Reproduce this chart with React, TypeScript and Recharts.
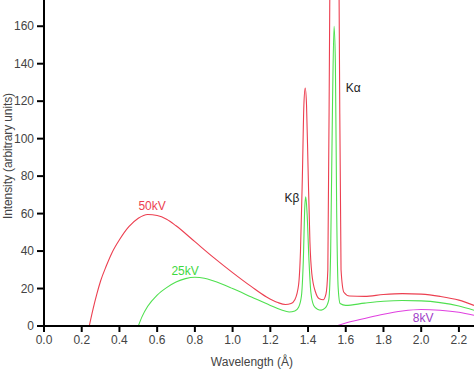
import React from "react";
import { LineChart, Line, XAxis, YAxis, ReferenceDot, Label } from "recharts";

// [wavelength (Å), intensity]
const kv50: [number, number][] = [
  [0.24, 0], [0.26, 9], [0.28, 17], [0.3, 24], [0.33, 32], [0.36, 39], [0.4, 46],
  [0.45, 53], [0.5, 57.5], [0.55, 59.5], [0.6, 59], [0.65, 57], [0.7, 53.5],
  [0.8, 45], [0.9, 36.5], [1.0, 28.5], [1.1, 21], [1.18, 15.5], [1.24, 12.5],
  [1.28, 11.5], [1.31, 12], [1.33, 14], [1.35, 22], [1.36, 40], [1.37, 80],
  [1.378, 118], [1.385, 127], [1.392, 118], [1.4, 85], [1.41, 45], [1.42, 28],
  [1.44, 18], [1.46, 14.5], [1.48, 14], [1.495, 17], [1.505, 30], [1.515, 170],
  [1.54, 500], [1.565, 170], [1.575, 30], [1.59, 18], [1.62, 16], [1.7, 15.8],
  [1.8, 16.8], [1.9, 17.3], [2.0, 17], [2.1, 15.8], [2.2, 13.8], [2.28, 11],
];

const kv25: [number, number][] = [
  [0.5, 0], [0.52, 5], [0.55, 10.5], [0.6, 16.5], [0.65, 20.5], [0.7, 23.5],
  [0.75, 25.3], [0.8, 26], [0.85, 25.5], [0.9, 24], [1.0, 20], [1.1, 15.5],
  [1.2, 11], [1.26, 8.5], [1.3, 7.5], [1.33, 8], [1.35, 10], [1.365, 16],
  [1.375, 35], [1.383, 64], [1.388, 69], [1.395, 60], [1.405, 35], [1.415, 18],
  [1.43, 11], [1.45, 9], [1.47, 8.5], [1.49, 9.5], [1.51, 14], [1.52, 40],
  [1.53, 120], [1.538, 160], [1.545, 140], [1.552, 60], [1.56, 20], [1.57, 12],
  [1.6, 11], [1.7, 12.2], [1.8, 13.2], [1.9, 13.6], [2.0, 13.4], [2.1, 12.5],
  [2.2, 10.7], [2.28, 8.4],
];

const kv8: [number, number][] = [
  [1.55, 0], [1.6, 1.6], [1.7, 4], [1.8, 6.3], [1.9, 8], [2.0, 8.8], [2.1, 8.4],
  [2.2, 7.3], [2.28, 5.7],
];

const xTicks = [0, 0.2, 0.4, 0.6, 0.8, 1.0, 1.2, 1.4, 1.6, 1.8, 2.0, 2.2];
const yTicks = [0, 20, 40, 60, 80, 100, 120, 140, 160];

// annotations: text, x, y, colour
const notes: [string, number, number, string][] = [
  ["50kV", 0.573, 64.4, "#ec3f50"],
  ["25kV", 0.748, 29.7, "#3fd83f"],
  ["Kβ", 1.315, 68.6, "#222"],
  ["Kα", 1.64, 127, "#222"],
  ["8kV", 2.01, 4.6, "#a040c8"],
];

const toPoints = (arr: [number, number][]) => arr.map(([w, i]) => ({ w, i }));

const tickStyle = { fontSize: 12, fill: "#444", fontFamily: "Liberation Sans, Arial, sans-serif" };

export default function App() {
  return (
    <div style={{ position: "absolute", left: 0, top: 0, fontFamily: "Liberation Sans, Arial, sans-serif" }}>
      <LineChart width={474} height={369} margin={{ top: 0, right: 0, left: 0, bottom: 0 }}>
        <XAxis
          dataKey="w"
          type="number"
          domain={[0, 2.28]}
          ticks={xTicks}
          tickFormatter={(v: number) => v.toFixed(1)}
          allowDataOverflow
          height={43}
          tickSize={6}
          tickMargin={3}
          tick={tickStyle}
          axisLine={{ stroke: "#000", strokeWidth: 2 }}
          tickLine={{ stroke: "#000", strokeWidth: 2 }}
        >
          <Label
            content={() => (
              <text x={252} y={366} textAnchor="middle" fontSize={12} fill="#444">
                Wavelength (Å)
              </text>
            )}
          />
        </XAxis>
        <YAxis
          type="number"
          domain={[0, 174]}
          ticks={yTicks}
          allowDataOverflow
          width={44}
          tickSize={7}
          tickMargin={3}
          tick={tickStyle}
          axisLine={{ stroke: "#000", strokeWidth: 2 }}
          tickLine={{ stroke: "#000", strokeWidth: 2 }}
        >
          <Label
            content={() => (
              <text x={11.5} y={156} transform="rotate(-90,11.5,156)" textAnchor="middle" fontSize={12} fill="#444" letterSpacing={-0.1}>
                Intensity (arbitrary units)
              </text>
            )}
          />
        </YAxis>
        <Line data={toPoints(kv50)} dataKey="i" type="monotone" stroke="#ec3f50" strokeWidth={1.1} dot={false} isAnimationActive={false} />
        <Line data={toPoints(kv25)} dataKey="i" type="monotone" stroke="#4fe04f" strokeWidth={1.1} dot={false} isAnimationActive={false} />
        <Line data={toPoints(kv8)} dataKey="i" type="monotone" stroke="#e040e0" strokeWidth={1.1} dot={false} isAnimationActive={false} />
        {notes.map(([t, x, y, c]) => (
          <ReferenceDot
            key={t}
            x={x}
            y={y}
            r={0}
            stroke="none"
            fill="none"
            label={{ value: t, position: "center", fill: c, fontSize: 12 }}
          />
        ))}
      </LineChart>
    </div>
  );
}
